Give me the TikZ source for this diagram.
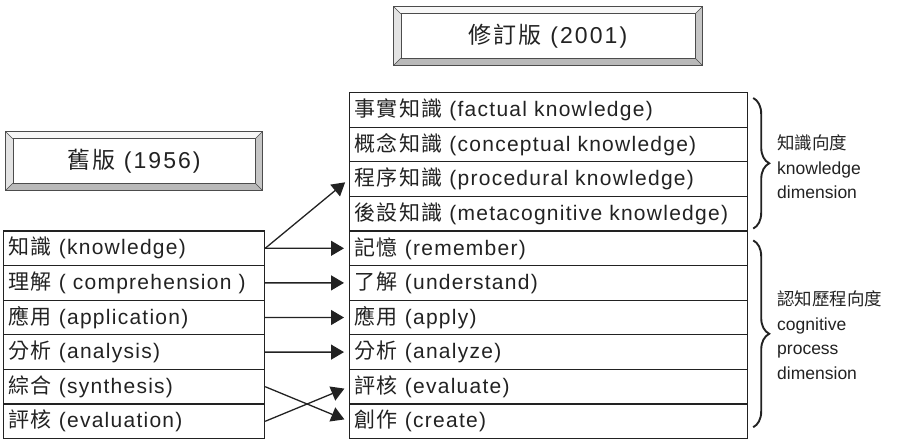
\documentclass[tikz,border=0pt]{standalone}
\usepackage{fontspec}
\usepackage{xcolor}
\usetikzlibrary{arrows.meta,decorations.pathreplacing}
\setmainfont{Liberation Sans}[LetterSpace=6]
\newfontfamily\cjk{Noto Sans CJK TC}[LetterSpace=6]
\newfontfamily\titlesans{Liberation Sans}[LetterSpace=9]
\newfontfamily\titlecjk{Noto Sans CJK TC}[LetterSpace=9]
\newfontfamily\plainsans{Liberation Sans}
\newfontfamily\plaincjk{Noto Sans CJK TC}
\definecolor{ink}{HTML}{222222}

% bevelled title box round a named node
\newcommand{\bevel}[1]{
  \fill[white] (#1.north west) rectangle (#1.south east);
  \fill[gray!6] (#1.north west) -- (#1.north east) -- ([shift={(-7,7)}]#1.north east) -- ([shift={(7,7)}]#1.north west) -- cycle;
  \fill[gray!22] (#1.north west) -- ([shift={(7,7)}]#1.north west) -- ([shift={(7,-7)}]#1.south west) -- (#1.south west) -- cycle;
  \fill[gray!45] (#1.north east) -- ([shift={(-7,7)}]#1.north east) -- ([shift={(-7,-7)}]#1.south east) -- (#1.south east) -- cycle;
  \fill[gray!55] (#1.south west) -- ([shift={(7,-7)}]#1.south west) -- ([shift={(-7,-7)}]#1.south east) -- (#1.south east) -- cycle;
  \draw[gray!60!black, line width=.6pt] ([shift={(7,7)}]#1.north west) rectangle ([shift={(-7,-7)}]#1.south east);
  \draw[gray!60!black, line width=.8pt] (#1.north west) rectangle (#1.south east);
  \draw[gray!60!black, line width=.4pt] (#1.north west) -- ([shift={(7,7)}]#1.north west);
  \draw[gray!60!black, line width=.4pt] (#1.south east) -- ([shift={(-7,-7)}]#1.south east);
  \draw[gray!60!black, line width=.4pt] (#1.north east) -- ([shift={(-7,7)}]#1.north east);
  \draw[gray!60!black, line width=.4pt] (#1.south west) -- ([shift={(7,-7)}]#1.south west);
  \node[text=ink, font=\fontsize{23}{27}\titlesans] at (#1.center) {\csname txt#1\endcsname};
}
\newcommand{\txtedold}{{\titlecjk 舊版} (1956)}
\newcommand{\txtednew}{{\titlecjk 修訂版} (2001)}

\begin{document}
\begin{tikzpicture}[x=1pt, y=-1pt,
    cell/.style = {draw=ink, line width=1.2pt, text=ink, rectangle, anchor=north west,
      inner xsep=5pt, inner ysep=0pt, minimum height=34.6pt, align=left,
      font=\fontsize{21}{24}\selectfont},
    link/.style = {draw=ink, line width=1.3pt, shorten >=5pt, -{Triangle[length=13pt, width=15pt]}},
    curly/.style = {draw=ink, line width=1.9pt, decorate, decoration={brace, amplitude=16pt}}]
  \useasboundingbox (0,0) rectangle (901,443);

  % title boxes
  \node[minimum width=308pt, minimum height=58pt, inner sep=0pt] (ednew) at (548,36) {};
  \node[minimum width=256pt, minimum height=58pt, inner sep=0pt] (edold) at (134,161) {};
  \bevel{ednew}
  \bevel{edold}

  % old taxonomy (1956)
  \foreach \i/\txt in {1/{{\cjk 知識} (knowledge)}, 2/{{\cjk 理解} ( comprehension )},
      3/{{\cjk 應用} (application)}, 4/{{\cjk 分析} (analysis)},
      5/{{\cjk 綜合} (synthesis)}, 6/{{\cjk 評核} (evaluation)}}
    \node[cell, text width=251pt] (old\i) at (3, {230.4+34.6*(\i-1)}) {\txt};

  % revised taxonomy (2001)
  \foreach \i/\txt in {1/{{\cjk 事實知識} (factual knowledge)}, 2/{{\cjk 概念知識} (conceptual knowledge)},
      3/{{\cjk 程序知識} (procedural knowledge)}, 4/{{\cjk 後設知識} (metacognitive knowledge)},
      5/{{\cjk 記憶} (remember)}, 6/{{\cjk 了解} (understand)},
      7/{{\cjk 應用} (apply)}, 8/{{\cjk 分析} (analyze)},
      9/{{\cjk 評核} (evaluate)}, 10/{{\cjk 創作} (create)}}
    \node[cell, text width=388pt] (new\i) at (349, {92+34.6*(\i-1)}) {\txt};

  % mapping
  \draw[link] (old1.east) -- (new3.west);
  \draw[link] (old1.east) -- (new5.west);
  \draw[link] (old2.east) -- (new6.west);
  \draw[link] (old3.east) -- (new7.west);
  \draw[link] (old4.east) -- (new8.west);
  \draw[link] (old5.east) -- (new10.west);
  \draw[link] (old6.east) -- (new9.west);

  % dimensions
  \draw[curly] ([shift={(5,6)}]new1.north east) -- ([shift={(5,-3)}]new4.south east);
  \draw[curly] ([shift={(5,10)}]new5.north east) -- ([shift={(5,-12)}]new10.south east);
  \node[text=ink, anchor=west, align=left, inner sep=0pt, font=\fontsize{17.5}{24.5}\plainsans] (dimknow) at (777,167)
    {{\plaincjk 知識向度}\\knowledge\\dimension};
  \node[text=ink, anchor=west, align=left, inner sep=0pt, font=\fontsize{17.5}{24.5}\plainsans] (dimcog) at (777,335)
    {{\plaincjk 認知歷程向度}\\cognitive\\process\\dimension};
\end{tikzpicture}
\end{document}
